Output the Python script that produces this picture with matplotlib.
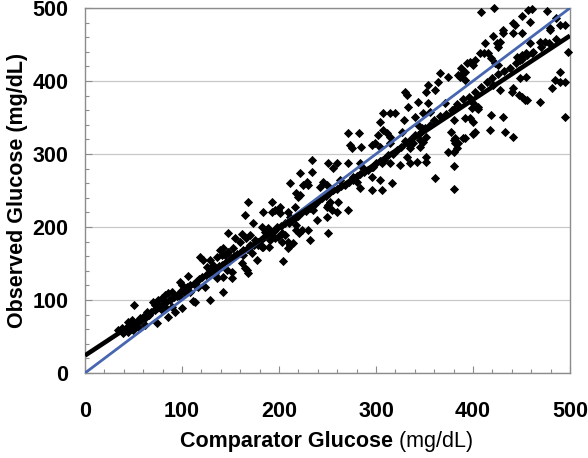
import matplotlib
matplotlib.use("Agg")
import matplotlib.pyplot as plt
from matplotlib.ticker import MultipleLocator

plt.rcParams["font.family"] = ["Liberation Sans", "DejaVu Sans"]

# ── Data (comparator, observed) in mg/dL ─────────────────────────────────────
low_pts = [
    (34, 59), (38, 62), (39, 55), (43, 63), (44, 56), (44, 70), (48, 73), (49, 59),
    (51, 93), (52, 66), (55, 63), (57, 75), (60, 77), (62, 66), (64, 84), (65, 79),
    (70, 97), (72, 93), (74, 89), (74, 68), (75, 100), (79, 103), (79, 86), (82, 107),
    (82, 90), (86, 109), (86, 77), (90, 111), (90, 90), (93, 84), (98, 125), (98, 104),
    (100, 121), (100, 89), (103, 109), (106, 133), (108, 111), (111, 99), (113, 123),
    (113, 97), (116, 118), (119, 159), (122, 155), (124, 118), (126, 145), (129, 100),
    (129, 155), (129, 141), (131, 141), (132, 148), (134, 137), (134, 134), (136, 159),
    (136, 130), (139, 168), (141, 162), (142, 171), (142, 111), (142, 132), (144, 162),
    (146, 141), (147, 166), (147, 192), (152, 138), (152, 130), (153, 171), (155, 185),
]
mid_pts = [
    (160, 180), (162, 190), (162, 151), (163, 162), (165, 216), (165, 144), (166, 185),
    (167, 141), (168, 234), (168, 137), (170, 189), (170, 175), (172, 164), (173, 205),
    (175, 182), (177, 155), (178, 175), (182, 200), (182, 173), (184, 221), (184, 173),
    (186, 193), (189, 198), (190, 173), (191, 182), (193, 234), (193, 221), (193, 193),
    (196, 196), (196, 223), (196, 185), (199, 223), (199, 186), (201, 219), (201, 227),
    (203, 192), (203, 179), (204, 153), (206, 189), (209, 221), (209, 180), (209, 171),
    (211, 260), (211, 214), (211, 175), (214, 178), (216, 227), (218, 247), (218, 196),
    (218, 203), (220, 241), (221, 192), (222, 274), (222, 244), (224, 196), (225, 258),
    (229, 262), (230, 258), (230, 196), (232, 182), (234, 292), (234, 275), (235, 223),
    (239, 210), (242, 255), (245, 262), (249, 258), (249, 228), (249, 214), (250, 287),
    (251, 230), (251, 192), (253, 234), (255, 223), (256, 281), (260, 288), (260, 221),
    (261, 234), (263, 264), (271, 329), (271, 288), (271, 223), (273, 312), (275, 308),
    (276, 268), (280, 262), (282, 329), (283, 288), (283, 253), (285, 310), (287, 281),
    (296, 312), (296, 268), (296, 251), (297, 282), (299, 315),
]
high_pts = [
    (302, 326), (304, 344), (304, 310), (304, 264), (306, 288), (306, 251), (307, 356),
    (307, 333), (311, 329), (314, 356), (314, 323), (314, 315), (314, 288), (316, 260),
    (320, 356), (325, 285), (327, 330), (329, 347), (330, 385), (332, 381), (332, 315),
    (332, 296), (333, 365), (335, 308), (335, 287), (338, 315), (340, 351), (342, 289),
    (343, 371), (343, 340), (345, 319), (345, 310), (347, 336), (348, 356), (348, 316),
    (352, 385), (352, 323), (352, 296), (352, 289), (354, 395), (354, 370), (356, 358),
    (361, 388), (361, 267), (364, 398), (366, 411), (371, 370), (374, 406), (374, 303),
    (377, 330), (380, 347), (380, 319), (380, 303), (380, 284), (380, 252), (381, 363),
    (381, 322), (381, 315), (383, 308), (385, 408), (385, 315), (387, 406), (388, 418),
    (390, 411), (390, 322), (392, 413), (392, 401), (392, 349), (392, 322), (394, 424),
    (397, 426), (397, 349), (399, 363), (400, 422), (400, 370), (400, 344), (400, 328),
    (402, 429), (402, 330), (404, 363), (405, 365), (405, 361), (407, 438), (408, 494),
    (411, 438), (412, 452), (415, 438), (418, 333), (419, 431), (419, 353), (421, 462),
    (421, 395), (422, 500), (423, 424), (425, 452), (426, 447), (426, 422), (428, 454),
    (428, 388), (431, 470), (431, 466), (431, 351), (433, 330), (440, 385), (441, 480),
    (441, 466), (441, 390), (441, 323), (443, 477), (445, 433), (447, 381), (448, 429),
    (448, 404), (450, 489), (450, 378), (451, 466), (451, 436), (454, 374), (455, 438),
    (455, 406), (456, 374), (457, 497), (459, 481), (459, 452), (461, 498), (461, 438),
    (469, 454), (469, 371), (474, 454), (476, 496), (479, 473), (479, 470), (481, 390),
    (485, 401), (486, 486), (490, 477), (490, 413), (490, 399), (495, 477), (495, 399),
    (495, 351), (498, 440),
]
# points packed along the fitted line (partly hidden by it)
band_pts = [
    (40, 58), (45, 63), (50, 68), (55, 70), (58, 72), (62, 76), (66, 80), (68, 83),
    (72, 86), (76, 90), (80, 95), (84, 97), (88, 100), (92, 104), (95, 106), (99, 112),
    (102, 114), (105, 118), (108, 120), (112, 122), (115, 126), (118, 129), (121, 132),
    (125, 134), (128, 137), (131, 139), (135, 143), (138, 146), (141, 148), (145, 152),
    (148, 154), (150, 157), (154, 160), (157, 163), (160, 165), (163, 168), (167, 170),
    (170, 172), (174, 176), (178, 180), (181, 182), (185, 186), (188, 190), (192, 190),
    (195, 195), (198, 200), (202, 201), (206, 205), (210, 206), (213, 210), (217, 212),
    (220, 215), (224, 220), (228, 222), (232, 226), (236, 230), (240, 236), (244, 240),
    (248, 242), (252, 246), (256, 250), (260, 252), (264, 256), (268, 258), (272, 262),
    (276, 264), (280, 270), (284, 272), (288, 276), (292, 278), (296, 282), (300, 288),
    (304, 290), (308, 292), (312, 298), (318, 300), (322, 305), (326, 310), (330, 318),
    (336, 320), (340, 326), (346, 330), (350, 335), (356, 340), (360, 346), (366, 352),
    (372, 355), (378, 360), (384, 368), (390, 375), (396, 378), (402, 385), (408, 392),
    (414, 398), (420, 404), (426, 410), (432, 414), (438, 418), (444, 424), (450, 430),
    (456, 436), (462, 440), (470, 446), (478, 452), (486, 458),
]

identity_x = [0, 500]
identity_y = [0, 500]
fit_x = [0, 500]
fit_y = [24, 462]

pts = low_pts + mid_pts + high_pts + band_pts
comparator = [p[0] for p in pts]
observed = [p[1] for p in pts]

FS = 15.5

fig = plt.figure(figsize=(5.88, 4.58), dpi=100)
ax = fig.add_axes([85 / 588, 1 - 373 / 458, 485 / 588, 365 / 458])

ax.scatter(comparator, observed, marker="D", s=22, color="black",
           linewidths=0, zorder=3, clip_on=False)
ax.plot(identity_x, identity_y, color="#4766b0", linewidth=2.0, zorder=4)
ax.plot(fit_x, fit_y, color="black", linewidth=3.3, zorder=5,
        solid_capstyle="butt")

ax.set_xlim(0, 500)
ax.set_ylim(0, 500)
ax.xaxis.set_major_locator(MultipleLocator(100))
ax.yaxis.set_major_locator(MultipleLocator(100))
ax.xaxis.set_minor_locator(MultipleLocator(20))
ax.yaxis.set_minor_locator(MultipleLocator(20))
ax.yaxis.grid(True, which="major", color="#c8c8c8", linewidth=0.9, zorder=0)
ax.set_axisbelow(True)

for s in ax.spines.values():
    s.set_color("#8c8c8c")
    s.set_linewidth(1.0)

ax.tick_params(which="both", direction="in", color="#8c8c8c", width=0.8)
ax.tick_params(which="major", length=5)
ax.tick_params(which="minor", length=3)
ax.tick_params(axis="x", which="major", pad=20, labelsize=FS)
ax.tick_params(axis="y", which="major", pad=12, labelsize=FS)
for lab in ax.get_xticklabels() + ax.get_yticklabels():
    lab.set_fontweight("bold")

ax.set_ylabel("Observed Glucose (mg/dL)", fontsize=FS, fontweight="bold",
              labelpad=3)

# x label: bold name + regular unit
fig.canvas.draw()
r = fig.canvas.get_renderer()
t1 = fig.text(0, 17 / 458, "Comparator Glucose", fontsize=FS,
              fontweight="bold", va="center", ha="left")
t2 = fig.text(0, 17 / 458, " (mg/dL)", fontsize=FS, va="center", ha="left")
w1 = t1.get_window_extent(r).width
w2 = t2.get_window_extent(r).width
x0 = 327 - (w1 + w2) / 2
t1.set_x(x0 / 588)
t2.set_x((x0 + w1) / 588)

fig.savefig("out.png", dpi=100)
